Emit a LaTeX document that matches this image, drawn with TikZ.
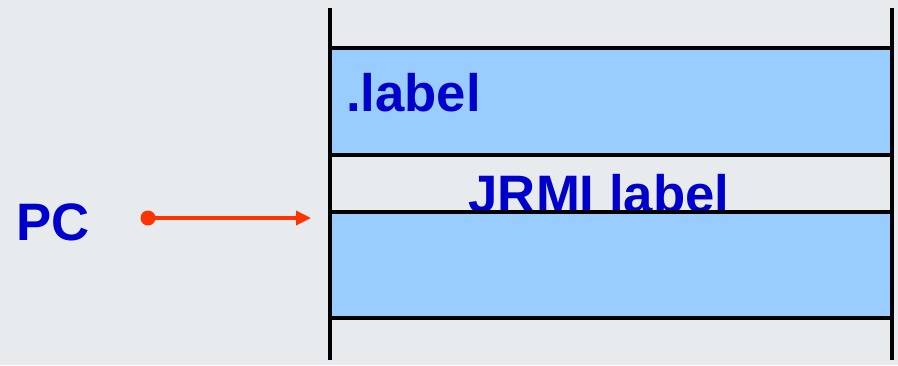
\documentclass[tikz,border=0pt]{standalone}
\usepackage{fontspec}
\setmainfont{Liberation Sans}
\usetikzlibrary{arrows.meta, positioning}
\definecolor{bggray}{HTML}{E7EBEE}
\definecolor{cellblue}{HTML}{99CCFF}
\definecolor{txtblue}{HTML}{0000CC}
\definecolor{pcred}{HTML}{FF3300}

\begin{document}
\begin{tikzpicture}[x=0.02cm, y=-0.02cm, line width=2.3pt,
    lbl/.style={text=txtblue, font=\bfseries\fontsize{30}{35}\selectfont, inner sep=0pt}]
        \fill[bggray] (0,0) rectangle (898,365);
        \useasboundingbox (0,0) rectangle (898,365);
        \fill[cellblue] (330,48) rectangle (892,155);
        \fill[cellblue] (330,212) rectangle (892,318);
        \node[lbl, anchor=base west] (dotlabel) at (344,111) {.label};
        \node[lbl, anchor=base] (jrmi) at (599,212) {JRMI label};
        \node[lbl, anchor=base west] (pc) at (14,240) {PC};
        \foreach \y in {48,155,212,318}
            \draw (330,\y) -- (892,\y);
        \draw (330,8) -- (330,360);
        \draw (892,8) -- (892,360);
        \node[circle, fill=pcred, inner sep=0pt, minimum size=0.3cm] (pcdot) at (148,218) {};
        \coordinate (pctarget) at (311,218);
        \draw[pcred, line width=1.9pt, -{Triangle[length=0.3cm, width=0.28cm]}] (pcdot.center) -- (pctarget);
    \end{tikzpicture}
\end{document}
